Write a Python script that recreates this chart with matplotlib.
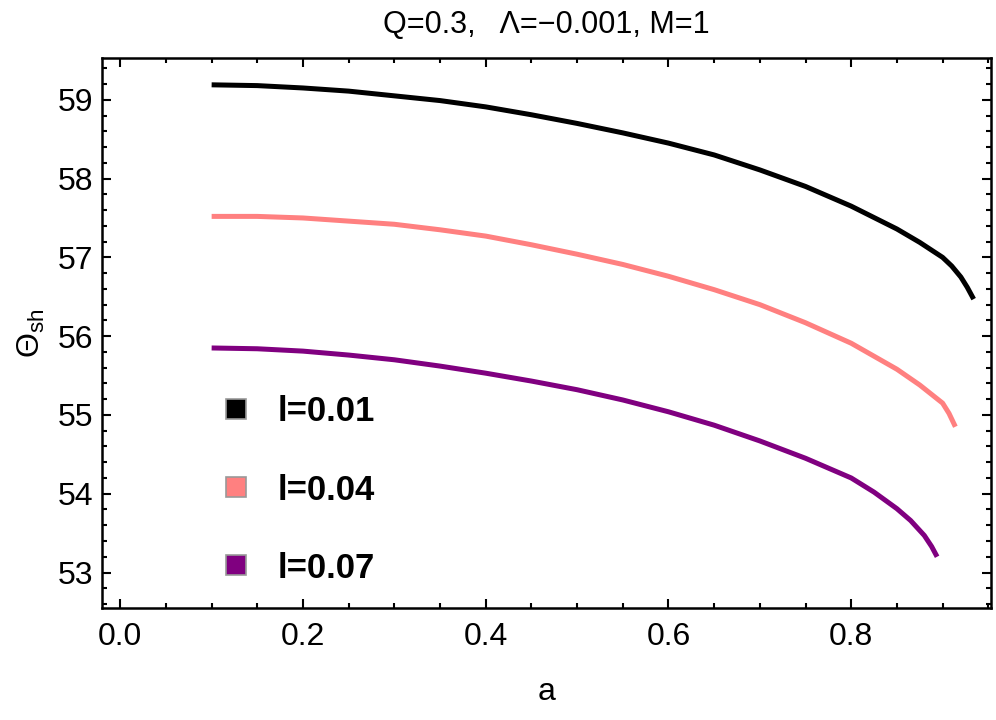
import numpy as np
import matplotlib.pyplot as plt
from matplotlib.lines import Line2D
from matplotlib.ticker import MultipleLocator

plt.rcParams['font.family'] = ['Liberation Sans', 'DejaVu Sans']
plt.rcParams['mathtext.fontset'] = 'custom'
plt.rcParams['mathtext.rm'] = 'Liberation Sans'
plt.rcParams['mathtext.it'] = 'Liberation Sans:italic'

# values
a_black = [0.10, 0.15, 0.20, 0.25, 0.30, 0.35, 0.40, 0.45, 0.50, 0.55, 0.60, 0.65, 0.70,
           0.75, 0.80, 0.85, 0.875, 0.90, 0.91, 0.92, 0.927, 0.934]
th_black = [59.19, 59.18, 59.15, 59.11, 59.05, 58.99, 58.91, 58.81, 58.70, 58.58, 58.45, 58.30, 58.11,
            57.90, 57.65, 57.36, 57.19, 57.00, 56.89, 56.75, 56.62, 56.47]

a_pink = [0.10, 0.15, 0.20, 0.25, 0.30, 0.35, 0.40, 0.45, 0.50, 0.55, 0.60, 0.65, 0.70,
          0.75, 0.80, 0.85, 0.875, 0.90, 0.907, 0.914]
th_pink = [57.52, 57.52, 57.50, 57.46, 57.42, 57.35, 57.27, 57.16, 57.04, 56.91, 56.76, 56.59, 56.40,
           56.17, 55.91, 55.58, 55.38, 55.15, 55.02, 54.85]

a_purple = [0.10, 0.15, 0.20, 0.25, 0.30, 0.35, 0.40, 0.45, 0.50, 0.55, 0.60, 0.65, 0.70,
            0.75, 0.80, 0.825, 0.85, 0.865, 0.88, 0.888, 0.894]
th_purple = [55.85, 55.84, 55.81, 55.76, 55.70, 55.62, 55.53, 55.43, 55.32, 55.19, 55.04, 54.87, 54.67,
             54.45, 54.20, 54.02, 53.81, 53.66, 53.47, 53.33, 53.20]

labels = ["l=0.01", "l=0.04", "l=0.07"]
colors = ["black", "#FF8080", "#800080"]

fig = plt.figure(figsize=(9.96, 7.2), dpi=100)
ax = fig.add_axes([0.1024, 0.1556, 0.8926, 0.7638])

for xs, ys, c in zip([a_black, a_pink, a_purple], [th_black, th_pink, th_purple], colors):
    ax.plot(xs, ys, color=c, lw=3.6, solid_capstyle='butt', solid_joinstyle='round')

ax.set_xlim(-0.02, 0.953)
ax.set_ylim(52.55, 59.53)
ax.xaxis.set_major_locator(MultipleLocator(0.2))
ax.xaxis.set_minor_locator(MultipleLocator(0.05))
ax.yaxis.set_major_locator(MultipleLocator(1))
ax.yaxis.set_minor_locator(MultipleLocator(0.2))
ax.xaxis.set_major_formatter(plt.FuncFormatter(lambda v, p: "%.1f" % v))
ax.tick_params(which='both', direction='in', top=True, right=True, width=1.5, labelsize=23)
ax.tick_params(which='major', length=6.5)
ax.tick_params(which='minor', length=3.5)
ax.tick_params(axis='x', which='major', pad=10)
ax.tick_params(axis='y', which='major', pad=6)
for s in ax.spines.values():
    s.set_linewidth(1.8)

ax.set_title("Q=0.3,   \u039b=\u22120.001, M=1", fontsize=22, pad=18)
ax.set_xlabel("a", fontsize=23, labelpad=18)
ax.set_ylabel(r"$\Theta_{\rm sh}$", fontsize=23, labelpad=8)

handles = [Line2D([], [], ls='none', marker='s', markersize=14, markerfacecolor=c,
                  markeredgecolor='#999999', markeredgewidth=1.2) for c in colors]
ax.legend(handles, labels, loc='center left', bbox_to_anchor=(0.131, 0.2145), frameon=False,
          prop={'weight': 'bold', 'size': 25}, handlelength=1.0, handletextpad=0.71,
          labelspacing=1.3, borderpad=0, borderaxespad=0)

fig.savefig("out.png", dpi=100)
